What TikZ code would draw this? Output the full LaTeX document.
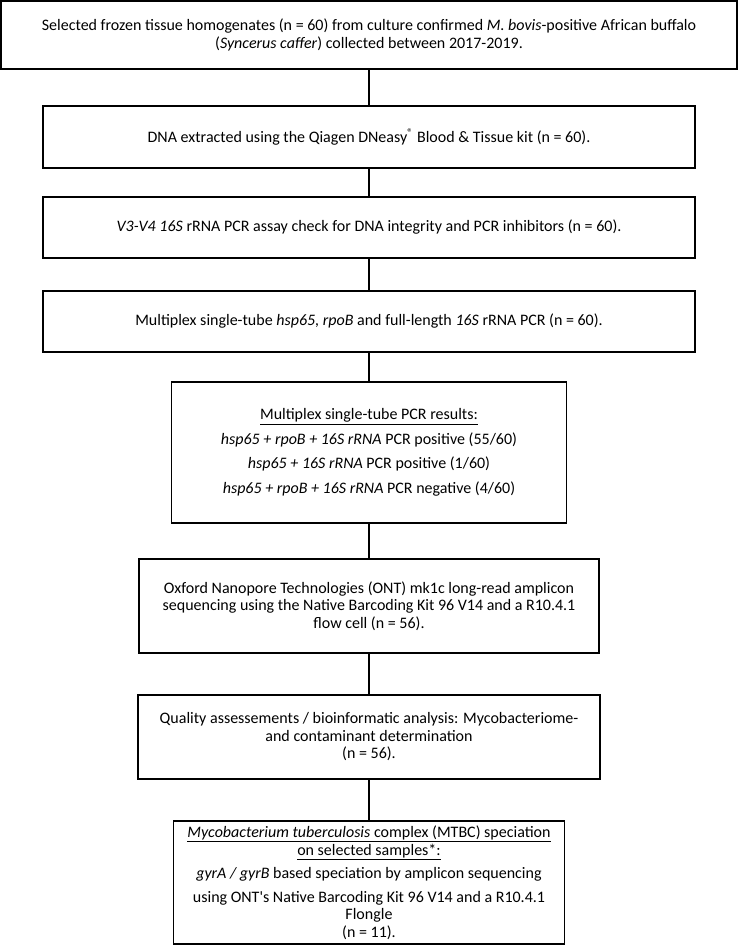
\documentclass[tikz,border=0pt]{standalone}
\usepackage{fontspec}
\setmainfont{Carlito}
\begin{document}
\begin{tikzpicture}[x=1bp,y=-1bp,
  box/.style={draw, line width=1.1bp, inner sep=0pt, align=center, font=\fontsize{16bp}{17.5bp}\selectfont},
  link/.style={line width=1.1bp}]
\useasboundingbox (0,0) rectangle (738,945);
\node[box, minimum width=736bp, minimum height=68bp] (b1) at (369,35)
  {Selected frozen tissue homogenates (n = 60) from culture confirmed \textit{M. bovis}-positive African buffalo\\(\textit{Syncerus caffer}) collected between 2017-2019.};
\node[box, minimum width=652bp, minimum height=62bp] (b2) at (369,137)
  {DNA extracted using the Qiagen DNeasy\textsuperscript{®} Blood \& Tissue kit (n = 60).};
\node[box, minimum width=652bp, minimum height=61bp] (b3) at (369,227.5)
  {\textit{V3-V4 16S} rRNA PCR assay check for DNA integrity and PCR inhibitors (n = 60).};
\node[box, minimum width=652bp, minimum height=61bp] (b4) at (369,321.5)
  {Multiplex single-tube \textit{hsp65, rpoB} and full-length \textit{16S} rRNA PCR (n = 60).};
\node[box, minimum width=395bp, minimum height=141bp] (b5) at (369,452.5)
  {\underline{Multiplex single-tube PCR results:}\\[7bp]
   \textit{hsp65 + rpoB + 16S rRNA} PCR positive (55/60)\\[7bp]
   \textit{hsp65 + 16S rRNA} PCR positive (1/60)\\[7bp]
   \textit{hsp65 + rpoB + 16S rRNA} PCR negative (4/60)};
\node[box, minimum width=460bp, minimum height=94bp] (b6) at (369,606)
  {Oxford Nanopore Technologies (ONT) mk1c long-read amplicon\\
   sequencing using the Native Barcoding Kit 96 V14 and a R10.4.1\\
   flow cell (n = 56).};
\node[box, minimum width=462bp, minimum height=84bp] (b7) at (369,737)
  {Quality assessements / bioinformatic analysis: Mycobacteriome-\\
   and contaminant determination\\
   (n = 56).};
\node[box, minimum width=391bp, minimum height=123bp] (b8) at (369,882.5)
  {\underline{\textit{Mycobacterium tuberculosis} complex (MTBC) speciation}\\
   \underline{on selected samples*:}\\[6bp]
   \textit{gyrA / gyrB} based speciation by amplicon sequencing\\[6bp]
   using ONT\textquotesingle s Native Barcoding Kit 96 V14 and a R10.4.1\\
   Flongle\\
   (n = 11).};
\draw[link] (b1) -- (b2);
\draw[link] (b2) -- (b3);
\draw[link] (b3) -- (b4);
\draw[link] (b4) -- (b5);
\draw[link] (b5) -- (b6);
\draw[link] (b6) -- (b7);
\draw[link] (b7) -- (b8);
\end{tikzpicture}
\end{document}
